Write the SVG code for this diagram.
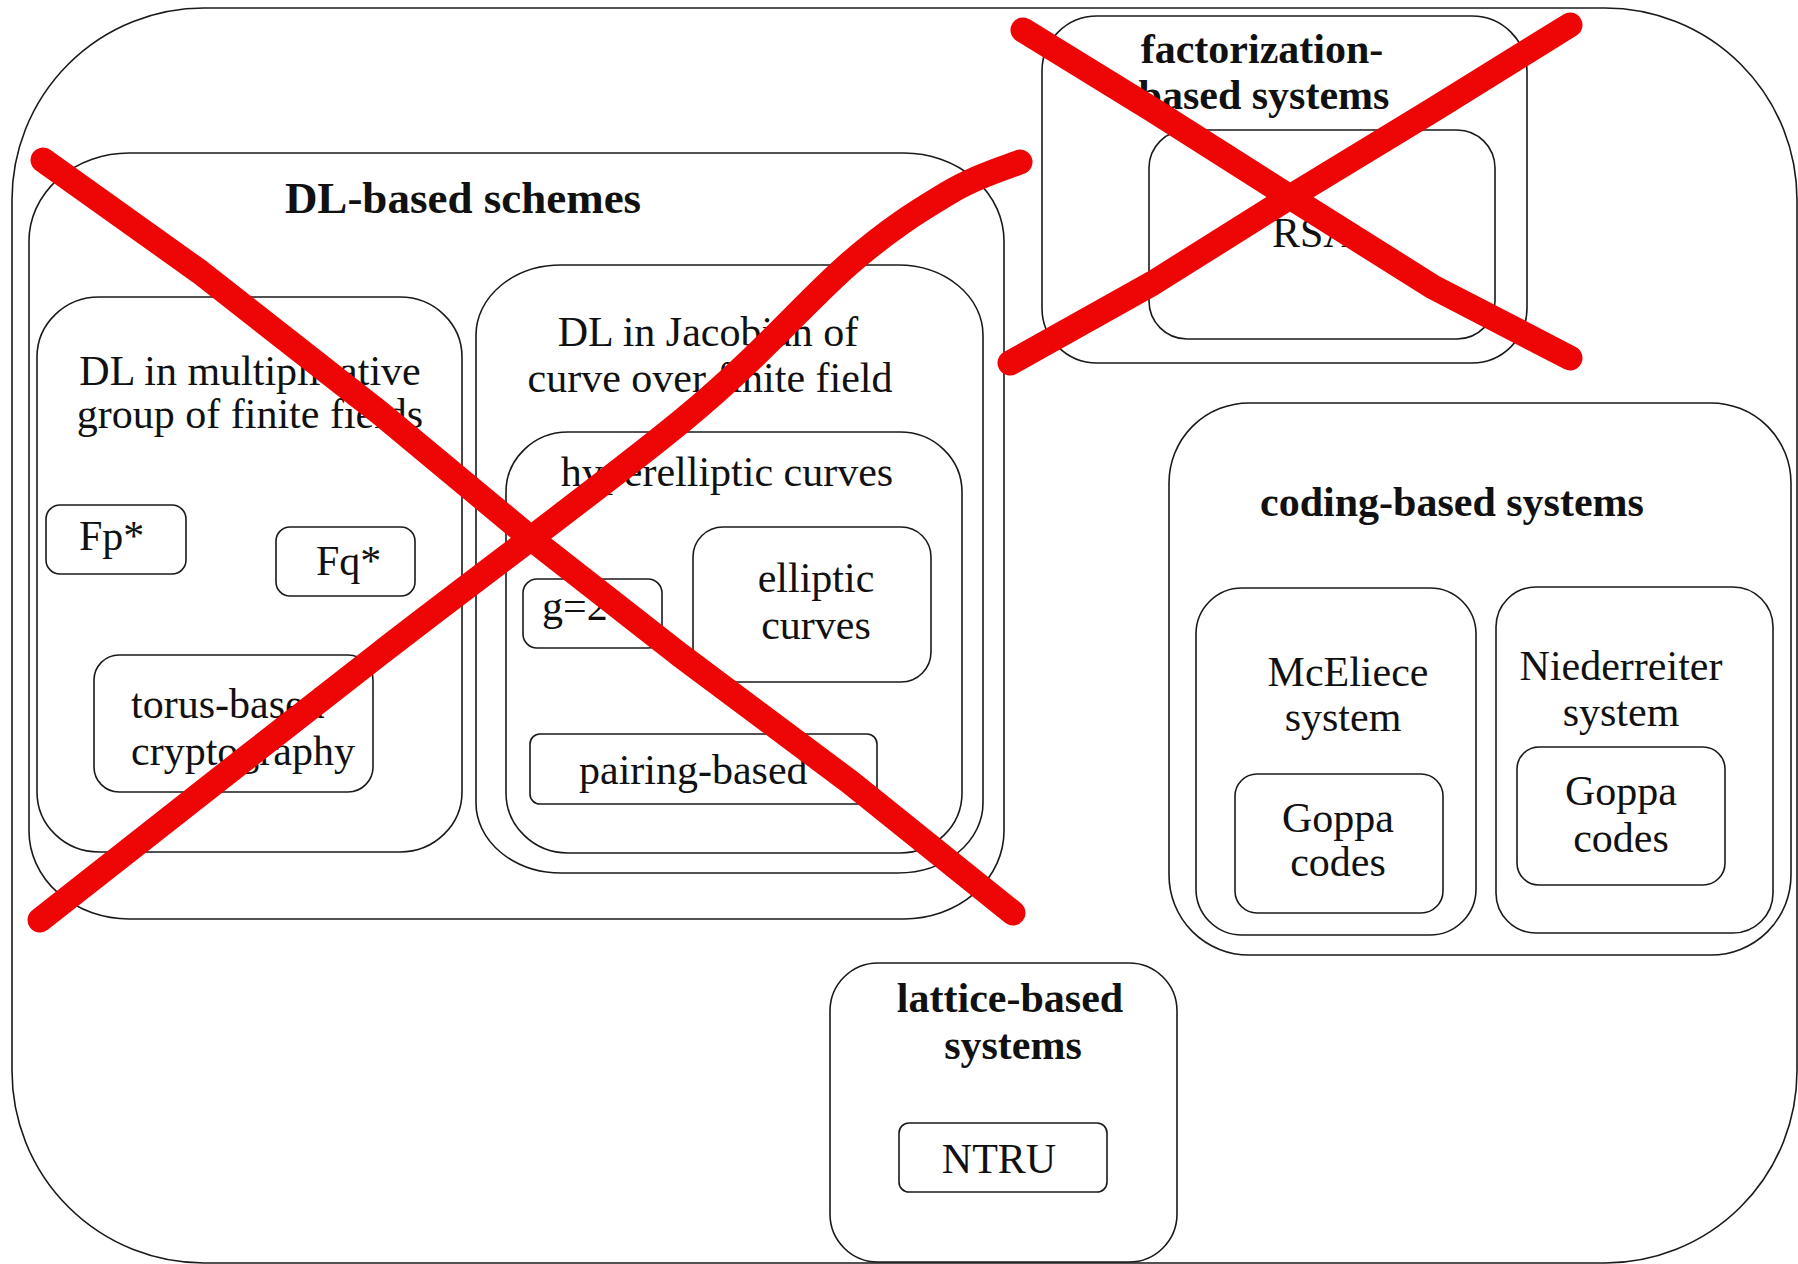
<svg xmlns="http://www.w3.org/2000/svg" width="1798" height="1264" viewBox="0 0 1798 1264">
<style>
.box{fill:none;stroke:#1a1a1a;stroke-width:1.6}
.t{font-family:"Liberation Serif","Times New Roman",serif;font-size:42px;fill:#111}
.b{font-family:"Liberation Serif","Times New Roman",serif;font-size:42px;font-weight:bold;fill:#111}
.m{text-anchor:middle}
.x{fill:none;stroke:#ee0505;stroke-width:25;stroke-linecap:round;stroke-linejoin:round}
</style>
<rect width="1798" height="1264" fill="#fff"/>
<g id="outer"><rect class="box" x="12" y="8" width="1785" height="1255" rx="192" ry="192"/></g>
<g id="dl-based">
<rect class="box" x="29" y="153" width="975" height="766" rx="100" ry="88"/>
<text class="b m" x="463" y="213" style="font-size:45px">DL-based schemes</text>
</g>
<g id="dl-mult">
<rect class="box" x="37" y="297" width="425" height="555" rx="62" ry="60"/>
<text class="t m" x="250" y="385">DL in multiplicative</text>
<text class="t m" x="250" y="428">group of finite fields</text>
</g>
<g id="fp"><rect class="box" x="46" y="505" width="140" height="69" rx="14"/><text class="t" x="79" y="550">Fp*</text></g>
<g id="fq"><rect class="box" x="276" y="527" width="139" height="69" rx="14"/><text class="t" x="316" y="575">Fq*</text></g>
<g id="torus"><rect class="box" x="94" y="655" width="279" height="137" rx="25"/>
<text class="t" x="131" y="718">torus-based</text><text class="t" x="131" y="765">cryptography</text></g>
<g id="jacobian">
<rect class="box" x="476" y="265" width="507" height="608" rx="85" ry="70"/>
<text class="t m" x="708" y="346">DL in Jacobian of</text>
<text class="t m" x="710" y="392">curve over finite field</text>
</g>
<g id="hyperelliptic">
<rect class="box" x="506" y="432" width="456" height="421" rx="62" ry="60"/>
<text class="t m" x="727" y="486">hyperelliptic curves</text>
</g>
<g id="g2"><rect class="box" x="523" y="579" width="139" height="69" rx="14"/><text class="t" x="542" y="620">g=2</text></g>
<g id="elliptic"><rect class="box" x="693" y="527" width="238" height="155" rx="30"/>
<text class="t m" x="816" y="592">elliptic</text><text class="t m" x="816" y="639">curves</text></g>
<g id="pairing"><rect class="box" x="530" y="734" width="347" height="70" rx="10"/><text class="t" x="579" y="784">pairing-based</text></g>
<g id="factorization">
<rect class="box" x="1042" y="16" width="485" height="347" rx="55"/>
<text class="b m" x="1262" y="63">factorization-</text>
<text class="b m" x="1264" y="109">based systems</text>
</g>
<g id="rsa"><rect class="box" x="1149" y="130" width="346" height="209" rx="38"/><text class="t" x="1272" y="247">RSA</text></g>
<g id="coding">
<rect class="box" x="1169" y="403" width="622" height="552" rx="80"/>
<text class="b m" x="1452" y="516">coding-based systems</text>
</g>
<g id="mceliece"><rect class="box" x="1196" y="588" width="280" height="347" rx="46"/>
<text class="t m" x="1348" y="686">McEliece</text><text class="t m" x="1343" y="731">system</text></g>
<g id="goppa1"><rect class="box" x="1235" y="774" width="208" height="139" rx="22"/>
<text class="t m" x="1338" y="832">Goppa</text><text class="t m" x="1338" y="876">codes</text></g>
<g id="niederreiter"><rect class="box" x="1496" y="587" width="277" height="346" rx="40"/>
<text class="t m" x="1621" y="680">Niederreiter</text><text class="t m" x="1621" y="726">system</text></g>
<g id="goppa2"><rect class="box" x="1517" y="747" width="208" height="138" rx="22"/>
<text class="t m" x="1621" y="805">Goppa</text><text class="t m" x="1621" y="852">codes</text></g>
<g id="lattice"><rect class="box" x="830" y="963" width="347" height="299" rx="48"/>
<text class="b m" x="1010" y="1012">lattice-based</text><text class="b m" x="1013" y="1059">systems</text></g>
<g id="ntru"><rect class="box" x="899" y="1123" width="208" height="69" rx="10"/><text class="t m" x="999" y="1173">NTRU</text></g>
<g id="connectors">
<polyline class="x" points="43,160 200,272 380,413 533,540 680,655 850,782 1013,913"/>
<path class="x" d="M40,920 C96,876 271,738 378,655 C485,572 604,485 683,420 C762,355 806,301 850,263 C894,225 922,209 950,192 C978,175 1008,167 1020,162"/>
<polyline class="x" points="1023,30 1153,110 1290,197 1433,287 1570,358"/>
<polyline class="x" points="1010,363 1153,283 1290,197 1433,110 1570,25"/>
</g>
</svg>
